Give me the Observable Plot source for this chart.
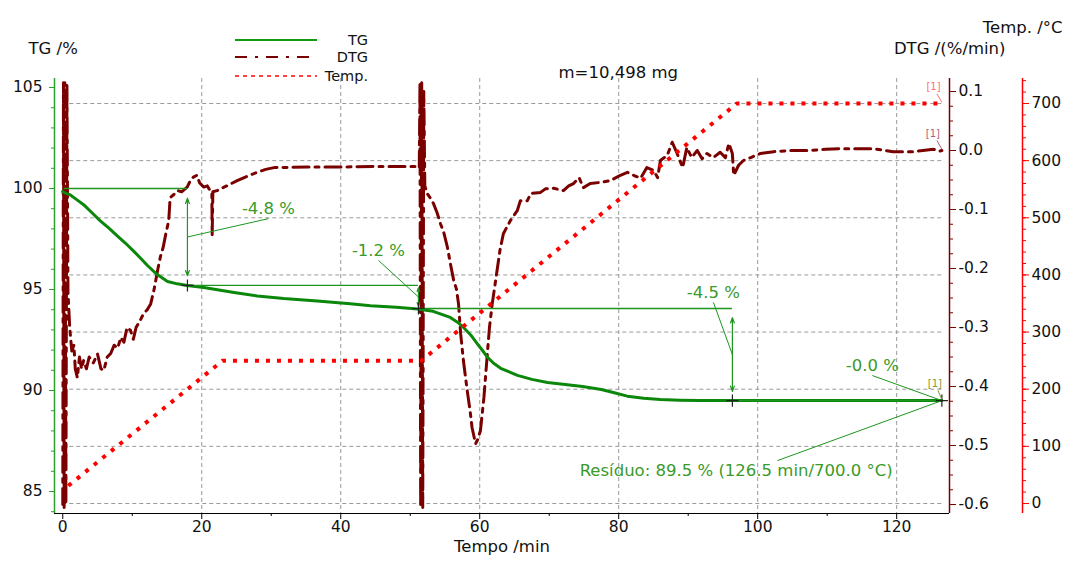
<!DOCTYPE html>
<html><head><meta charset="utf-8">
<script src="https://cdn.jsdelivr.net/npm/d3@7"></script>
<script src="https://cdn.jsdelivr.net/npm/@observablehq/plot@0.6"></script>
<style>
body{margin:0;background:#fff;}
#wrap{position:relative;width:1066px;height:561px;overflow:hidden;background:#fff;}
</style></head>
<body><div id="wrap"></div>
<script>
// ---------- data ----------
const tgTime = [0,0.3,1,2,3,4.2,5.4,6.6,7.8,9,10.2,11.2,12.15,13.55,15.07,16.48,17.89,20.3,24.64,28,31.79,36.62,41.36,44.28,48,51.03,53.3,55.76,56.8,57.67,58.7,59.69,60.4,61.1,62,63.01,65.43,67.5,69.76,72.3,74.8,77.5,79.5,81.24,83.6,85.98,88.8,91.6,96,105,115,126.5];
const tgValue = [99.85,99.78,99.7,99.45,99.2,98.8,98.4,98.05,97.67,97.3,96.9,96.55,96.2,95.75,95.4,95.28,95.2,95.1,94.85,94.68,94.55,94.43,94.3,94.2,94.12,94.03,93.92,93.62,93.38,93.12,92.75,92.3,91.98,91.65,91.35,91.1,90.75,90.55,90.4,90.3,90.2,90.05,89.88,89.72,89.62,89.55,89.52,89.5,89.5,89.5,89.5,89.5];

const dtgTime = [0.0,0.1,0.2,0.3,0.45,0.6,0.75,1.0,1.3,1.6,1.8,2.1,2.4,2.7,3.0,3.4,3.8,4.4,5.0,5.5,5.9,6.4,6.9,7.4,7.9,8.35,8.8,9.25,9.75,10.15,10.55,11.05,11.65,12.15,12.65,13.15,13.65,14.05,14.45,14.85,15.25,15.45,15.95,16.5,17.1,17.9,18.4,18.8,19.3,19.7,20.3,20.8,21.2,21.45,21.5,21.6,22.2,23.6,25.1,26.65,27.95,29.2,30.4,35.2,40.2,45.3,50.8,51.3,51.4,51.5,51.65,51.8,51.95,52.1,52.45,52.85,53.35,53.85,54.35,54.85,55.35,55.75,56.25,56.65,56.95,57.25,57.65,58.2,58.6,58.9,59.4,59.7,60.1,60.6,61.1,61.4,61.8,62.5,62.9,63.4,64.4,65.4,65.85,66.85,67.35,68.75,69.45,70.65,72.05,72.8,73.5,74.3,74.9,75.9,77.4,78.8,80.25,81.25,82.15,83.15,84.05,85.05,85.6,86.0,87.0,87.7,88.4,89.2,89.8,90.5,91.3,92.0,92.7,93.6,94.6,95.35,95.85,96.35,96.55,97.25,97.95,99.0,100.4,102.3,104.7,107.1,109.8,111.9,114.3,116.7,119.5,122.4,125.3,126.2,126.5];
const dtgValue = [-0.60,0.115,-0.605,0.115,-0.60,0.11,-0.24,-0.30,-0.34,-0.33,-0.37,-0.385,-0.35,-0.37,-0.356,-0.37,-0.35,-0.36,-0.345,-0.37,-0.373,-0.35,-0.344,-0.33,-0.335,-0.317,-0.325,-0.30,-0.305,-0.32,-0.30,-0.29,-0.276,-0.27,-0.26,-0.235,-0.203,-0.18,-0.164,-0.14,-0.119,-0.08,-0.075,-0.068,-0.07,-0.062,-0.05,-0.045,-0.042,-0.055,-0.062,-0.06,-0.068,-0.07,-0.144,-0.07,-0.068,-0.06,-0.051,-0.043,-0.037,-0.032,-0.029,-0.028,-0.028,-0.027,-0.027,-0.03,0.115,-0.605,0.115,-0.605,0.10,-0.06,-0.073,-0.08,-0.09,-0.105,-0.124,-0.14,-0.164,-0.19,-0.22,-0.235,-0.26,-0.31,-0.356,-0.407,-0.44,-0.47,-0.497,-0.49,-0.475,-0.419,-0.344,-0.30,-0.26,-0.203,-0.17,-0.141,-0.119,-0.102,-0.085,-0.085,-0.073,-0.071,-0.065,-0.064,-0.068,-0.06,-0.056,-0.046,-0.063,-0.056,-0.054,-0.051,-0.042,-0.037,-0.042,-0.047,-0.029,-0.034,-0.046,-0.017,-0.008,0.014,-0.005,-0.029,0.005,-0.012,0,-0.014,-0.005,-0.012,-0.003,-0.012,0.012,-0.005,-0.042,-0.025,-0.017,-0.012,-0.005,-0.002,0,0,0.002,0.003,0.003,0.003,-0.002,-0.002,0.002,-0.001,0.0];

const tempTime = [0.8, 23.0, 51.6, 97.0, 126.5];
const tempValue = [31, 250, 250, 700, 700];

// mass-loss steps
const stepTime = [17.94, 51.18, 96.36, 126.5];
const stepFrom = [100, 95.2, 94.06, 89.5];
const stepTo   = [95.2, 94.06, 89.5, 89.5];
const stepLabel = ["-4.8 %", "-1.2 %", "-4.5 %", "-0.0 %"];
const stepStart = 0.2;
const residueText = "Resíduo: 89.5 % (126.5 min/700.0 °C)";

// tick labels
const timeTicks = [0, 20, 40, 60, 80, 100, 120];
const timeMinor = [10, 30, 50, 70, 90, 110];
const tgTicks = [85, 90, 95, 100, 105];
const dtgTicks = [0.1, 0.0, -0.1, -0.2, -0.3, -0.4, -0.5, -0.6];
const tempTicks = [0, 100, 200, 300, 400, 500, 600, 700];

const titles = {tg: "TG /%", dtg: "DTG /(%/min)", temp: "Temp. /°C", mass: "m=10,498 mg", x: "Tempo /min"};
const legendLabels = ["TG", "DTG", "Temp."];

// ---------- layout / styles ----------
const W = 1066, H = 561;
const mL = 54, mR = 117, mT = 78, mB = 48;
const xDomain = [-1.19, 127.6];
const yDomain = [83.911, 105.446];
const tgPx = d3.scaleLinear(yDomain, [H - mB, mT]);
const dtgPx = d3.scaleLinear([-0.6, 0.1], [504, 91]);
const tempPx = d3.scaleLinear([0, 700], [503, 103]);
const dtgToY = v => tgPx.invert(dtgPx(v));
const tempToY = T => tgPx.invert(tempPx(T));
const yToDtg = y => dtgPx.invert(tgPx(y));
const yToTemp = y => tempPx.invert(tgPx(y));

const cTG = "#0b870b", cDTG = "#7a0000", cTemp = "#ff0000";
const cAxisG = "#2ca02c", cAnn = "#1e961e", cAnnText = "#3a9a2a", cGrid = "#9a9a9a";
const font = "DejaVu Sans, sans-serif";
const tickFont = 15.5;

const tg = tgTime.map((t, i) => ({t, y: tgValue[i]}));
const dtg = dtgTime.map((t, i) => ({t, y: dtgToY(dtgValue[i])}));
const temp = tempTime.map((t, i) => ({t, y: tempToY(tempValue[i])}));

const gridEnd = 126.6;
const gridRows = tempTicks.map(T => ({y: tempToY(T), x1: 0, x2: gridEnd}));

const tgMinor = d3.range(84, 106, 1);
const dtgMinor = d3.range(0, 29).map(i => -0.6 + i * 0.025);
const tempMinor = d3.range(0, 38).map(i => i * 20);

// annotations derived from steps
const hLines = stepTime.map((t, i) => ({x1: i === 0 ? stepStart : stepTime[i - 1], x2: t, y: stepFrom[i]}));
const crosses = stepTime.map((t, i) => ({t, y: stepTo[i]}));
const arrowMarks = [];
[0, 1, 2].forEach(i => {
  const mid = (stepFrom[i] + stepTo[i]) / 2;
  const lenPx = Math.abs(tgPx(stepFrom[i]) - tgPx(stepTo[i]));
  const inset = Math.min(10, lenPx * 0.1);
  const o = {stroke: cAnn, strokeWidth: 1.2, headLength: 7, headAngle: 40, insetEnd: inset};
  arrowMarks.push(Plot.arrow([{x1: stepTime[i], y1: mid, x2: stepTime[i], y2: stepFrom[i]}], {x1: "x1", y1: "y1", x2: "x2", y2: "y2", ...o}));
  arrowMarks.push(Plot.arrow([{x1: stepTime[i], y1: mid, x2: stepTime[i], y2: stepTo[i]}], {x1: "x1", y1: "y1", x2: "x2", y2: "y2", ...o}));
});
// label anchor points (where the leader meets the label)
const labelAt = [{t: 29.6, y: 98.51}, {t: 45.43, y: 96.44}, {t: 93.63, y: 94.36}, {t: 116.5, y: 90.74}];
const labels = stepLabel.map((s, i) => ({text: s, t: labelAt[i].t, y: labelAt[i].y}));
const leaders = stepLabel.map((s, i) => ({
  x1: labelAt[i].t, y1: labelAt[i].y,
  x2: stepTime[i], y2: i < 3 ? (stepFrom[i] + stepTo[i]) / 2 : stepTo[i]
}));
const residueAt = {t: 96.9, y: 86.04};
leaders.push({x1: 102.85, y1: 86.53, x2: stepTime[3], y2: stepTo[3]});

const endMarks = [
  {t: 125.5, y: 90.35, color: "#7e9a2e", lx1: 125.95, ly1: 90.0, lx2: 126.5, ly2: 89.55},
  {t: 125.2, y: dtgToY(0.029), color: "#b0607a", lx1: 125.8, ly1: dtgToY(0.017), lx2: 126.5, ly2: dtgToY(0.002)},
  {t: 125.3, y: tempToY(730), color: "#ff7070", lx1: 125.8, ly1: tempToY(717), lx2: 126.5, ly2: tempToY(702)}
];

const fmt1 = v => (Math.round(v * 10) / 10).toFixed(1);

const plot = Plot.plot({
  width: W, height: H,
  marginLeft: mL, marginRight: mR, marginTop: mT, marginBottom: mB,
  x: {domain: xDomain, axis: null},
  y: {domain: yDomain, axis: null},
  style: {fontFamily: font, fontSize: "16px", background: "white", overflow: "visible", color: "#111"},
  marks: [
    // grid
    Plot.ruleX(timeTicks.filter(d => d > 0), {stroke: cGrid, strokeDasharray: "4,3"}),
    Plot.ruleY(gridRows, {y: "y", x1: "x1", x2: "x2", stroke: cGrid, strokeDasharray: "4,3"}),
    // axis lines
    Plot.ruleX([xDomain[0]], {stroke: cAxisG, strokeWidth: 1.5}),
    Plot.ruleX([xDomain[1]], {stroke: cDTG, strokeWidth: 1.5}),
    Plot.ruleX([xDomain[1]], {dx: 73, stroke: cTemp, strokeWidth: 1.5}),
    Plot.ruleY([yDomain[0]], {stroke: "#000"}),
    // TG axis
    Plot.axisY({anchor: "left", ticks: tgTicks, tickSize: 5, tickPadding: 7, stroke: cAxisG, fill: "#111", fontSize: tickFont, fontFamily: font, tickFormat: d => String(d), label: null}),
    Plot.axisY({anchor: "left", ticks: tgMinor, tickSize: 3, stroke: cAxisG, fill: "none", tickFormat: () => "", label: null}),
    // DTG axis
    Plot.axisY({anchor: "right", ticks: dtgTicks.map(dtgToY), tickSize: 6, tickPadding: 3, stroke: cDTG, fill: "#111", fontSize: tickFont, fontFamily: font, tickFormat: d => fmt1(yToDtg(d)), label: null}),
    Plot.axisY({anchor: "right", ticks: dtgMinor.map(dtgToY), tickSize: 3, stroke: cDTG, fill: "none", tickFormat: () => "", label: null}),
    // Temp axis
    Plot.axisY({anchor: "right", dx: 73, ticks: tempTicks.map(tempToY), tickSize: 6, tickPadding: 3, stroke: cTemp, fill: "#111", fontSize: tickFont, fontFamily: font, tickFormat: d => String(Math.round(yToTemp(d))), label: null}),
    Plot.axisY({anchor: "right", dx: 73, ticks: tempMinor.map(tempToY), tickSize: 3, stroke: cTemp, fill: "none", tickFormat: () => "", label: null}),
    // time axis
    Plot.axisX({anchor: "bottom", ticks: timeTicks, tickSize: 6, tickPadding: 1, stroke: "#000", fill: "#111", fontSize: tickFont, fontFamily: font, tickFormat: d => String(d), label: null}),
    Plot.axisX({anchor: "bottom", ticks: timeMinor, tickSize: 3, stroke: "#000", fill: "none", tickFormat: () => "", label: null}),
    // series
    Plot.line(dtg, {x: "t", y: "y", stroke: cDTG, strokeWidth: 3, strokeDasharray: "16,6,4,6", curve: "linear"}),
    Plot.line(tg, {x: "t", y: "y", stroke: cTG, strokeWidth: 3, curve: "linear"}),
    Plot.line(temp, {x: "t", y: "y", stroke: cTemp, strokeWidth: 4, strokeDasharray: "4,7", strokeLinecap: "butt"}),
    // step annotations
    Plot.ruleY(hLines, {y: "y", x1: "x1", x2: "x2", stroke: cAnn, strokeWidth: 1.3}),
    ...arrowMarks,
    Plot.link(leaders, {x1: "x1", y1: "y1", x2: "x2", y2: "y2", stroke: cAnn, strokeWidth: 1}),
    Plot.dot(crosses, {x: "t", y: "y", symbol: "plus", r: 4, stroke: "#222", strokeWidth: 1.2}),
    Plot.text(labels, {x: "t", y: "y", text: "text", dy: -10, fill: cAnnText, fontSize: 16.5, fontFamily: font}),
    Plot.text([residueText], {x: () => residueAt.t, y: () => residueAt.y, text: d => d, fill: cAnnText, fontSize: 16.5, fontFamily: font}),
    // end markers [1]
    Plot.link(endMarks, {x1: "lx1", y1: "ly1", x2: "lx2", y2: "ly2", stroke: "color", strokeWidth: 1}),
    Plot.text(endMarks, {x: "t", y: "y", text: () => "[1]", fill: "color", fontSize: 10, fontFamily: font}),
    // titles
    Plot.text([titles.tg], {frameAnchor: "top-left", dx: -26, dy: -36, textAnchor: "start", text: d => d, fontSize: 16.5, fontFamily: font, fill: "#111"}),
    Plot.text([titles.dtg], {frameAnchor: "top-right", dx: 56, dy: -36, textAnchor: "end", text: d => d, fontSize: 16.5, fontFamily: font, fill: "#111"}),
    Plot.text([titles.temp], {frameAnchor: "top-right", dx: 113, dy: -57, textAnchor: "end", text: d => d, fontSize: 16.5, fontFamily: font, fill: "#111"}),
    Plot.text([titles.mass], {frameAnchor: "top-left", dx: 504, dy: -12, text: d => d, fontSize: 16.5, fontFamily: font, fill: "#111"}),
    Plot.text([titles.x], {frameAnchor: "bottom", dy: 38, text: d => d, fontSize: 16.5, fontFamily: font, fill: "#111"})
  ]
});
const wrap = document.getElementById("wrap");
wrap.appendChild(plot);

// legend overlay
const legStyles = [
  {stroke: "#109a10", width: 2, dash: null, y: 40},
  {stroke: cDTG, width: 2, dash: "12,8,3,8", y: 57},
  {stroke: cTemp, width: 1.5, dash: "4,4", y: 76}
];
const leg = d3.select(wrap).append("svg")
  .attr("width", 420).attr("height", 90)
  .style("position", "absolute").style("left", "0px").style("top", "0px")
  .style("font-family", font);
legendLabels.forEach((lab, i) => {
  const s = legStyles[i];
  leg.append("line").attr("x1", 235).attr("x2", 317).attr("y1", s.y).attr("y2", s.y)
    .attr("stroke", s.stroke).attr("stroke-width", s.width).attr("stroke-dasharray", s.dash);
  leg.append("text").attr("x", 368).attr("y", s.y + 1).attr("text-anchor", "end")
    .attr("dominant-baseline", "middle").attr("font-size", 14.5).attr("fill", "#111").text(lab);
});
</script></body></html>
